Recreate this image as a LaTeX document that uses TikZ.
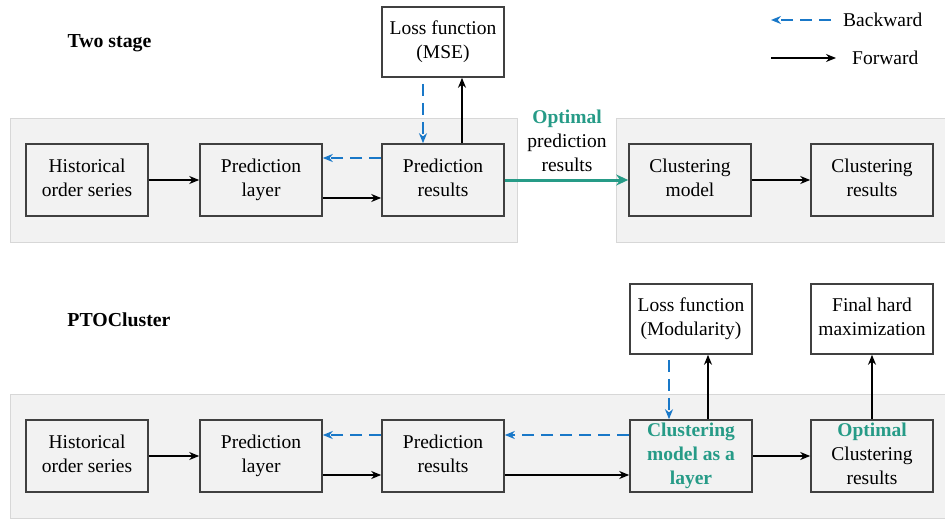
\documentclass[tikz,border=0pt]{standalone}
\usepackage{fontspec}
\setmainfont{Liberation Serif}
\usetikzlibrary{arrows.meta,calc}
\definecolor{tgreen}{RGB}{38,155,135}
\definecolor{bblue}{RGB}{25,120,200}
\definecolor{bgfill}{RGB}{242,242,242}
\definecolor{bgline}{RGB}{215,215,215}
\newcommand{\mystrutA}{\rule{0pt}{31pt}}
\newcommand{\mystrutB}{\rule[-4.6pt]{0pt}{4.6pt}}
\begin{document}
\begin{tikzpicture}[x=1pt,y=-1pt,
  txt/.style={font=\fontsize{19.5}{24}\selectfont, align=center, inner sep=0pt},
  box/.style={txt, draw=black!75, line width=1.6pt, fill=bgfill, minimum width=122pt, minimum height=72pt,
    execute at begin node=\mystrutA, execute at end node=\mystrutB},
  lossbox/.style={box, fill=white, minimum height=70pt},
  panel/.style={fill=bgfill, draw=bgline, line width=0.8pt},
  fwd/.style={draw=black, line width=1.6pt, -{Stealth[length=10pt,width=8pt]}},
  bwd/.style={draw=bblue, line width=1.6pt, dash pattern=on 12pt off 7pt, -{Stealth[length=10pt,width=8pt]}},
  grn/.style={draw=tgreen, line width=3pt, -{Stealth[length=12pt,width=11pt]}},
  title/.style={font=\fontsize{19.8}{23}\selectfont\bfseries, inner sep=0pt}
]
\useasboundingbox (0,0) rectangle (945,519);
% panels
\draw[panel] (10.5,118.5) rectangle (517.5,242.5);
\draw[panel] (616.5,118.5) rectangle (948,242.5);
\draw[panel] (10.5,394.5) rectangle (948,518.5);

% titles
\node[title] (t1) at (109.5,43) {Two stage};
\node[title] (t2) at (119,320) {PTOCluster};

% legend
\coordinate (lb1) at (831,20);
\coordinate (lb2) at (771,20);
\node[txt, anchor=west] (lbt) at (843,20) {Backward};
\draw[bwd] (lb1) -- (lb2);
\coordinate (lf1) at (771,58);
\coordinate (lf2) at (836,58);
\node[txt, anchor=west] (lft) at (852,58) {Forward};
\draw[fwd] (lf1) -- (lf2);

% top row
\node[box] (h1) at (87,180) {Historical\\order series};
\node[box] (p1) at (261,180) {Prediction\\layer};
\node[box] (r1) at (443,180) {Prediction\\results};
\node[box] (c1) at (690,180) {Clustering\\model};
\node[box] (cr1) at (872,180) {Clustering\\results};
\node[lossbox] (l1) at (443,42) {Loss function\\(MSE)};
\node[txt] (opt) at (567,141) {\textcolor{tgreen}{\bfseries Optimal}\\prediction\\results};

\draw[fwd] (h1) -- (p1);
\draw[fwd] ($(p1.east)+(0,18)$) -- ($(r1.west)+(0,18)$);
\draw[bwd] ($(r1.west)+(0,-22)$) -- ($(p1.east)+(0,-22)$);
\draw[bwd] ($(l1.south)+(-20,6)$) -- ($(r1.north)+(-20,0)$);
\draw[fwd] ($(r1.north)+(19,0)$) -- ($(l1.south)+(19,0)$);
\draw[grn] (r1) -- (c1);
\draw[fwd] (c1) -- (cr1);

% bottom row
\node[box] (h2) at (87,456) {Historical\\order series};
\node[box] (p2) at (261,456) {Prediction\\layer};
\node[box] (r2) at (443,456) {Prediction\\results};
\node[box, font=\fontsize{19.5}{24}\selectfont\bfseries, text=tgreen] (c2) at (691,456) {Clustering\\model as a\\layer};
\node[box] (cr2) at (872,456) {\textcolor{tgreen}{\bfseries Optimal}\\Clustering\\results};
\node[lossbox] (l2) at (691,319) {Loss function\\(Modularity)};
\node[lossbox] (f2) at (872,319) {Final hard\\maximization};

\draw[fwd] (h2) -- (p2);
\draw[fwd] ($(p2.east)+(0,19)$) -- ($(r2.west)+(0,19)$);
\draw[bwd] ($(r2.west)+(0,-21)$) -- ($(p2.east)+(0,-21)$);
\draw[bwd] ($(c2.west)+(0,-21)$) -- ($(r2.east)+(0,-21)$);
\draw[fwd] ($(r2.east)+(0,19)$) -- ($(c2.west)+(0,19)$);
\draw[fwd] (c2) -- (cr2);
\draw[bwd] ($(l2.south)+(-22,5)$) -- ($(c2.north)+(-22,0)$);
\draw[fwd] ($(c2.north)+(17,0)$) -- ($(l2.south)+(17,0)$);
\draw[fwd] (cr2) -- (f2);
\end{tikzpicture}
\end{document}
